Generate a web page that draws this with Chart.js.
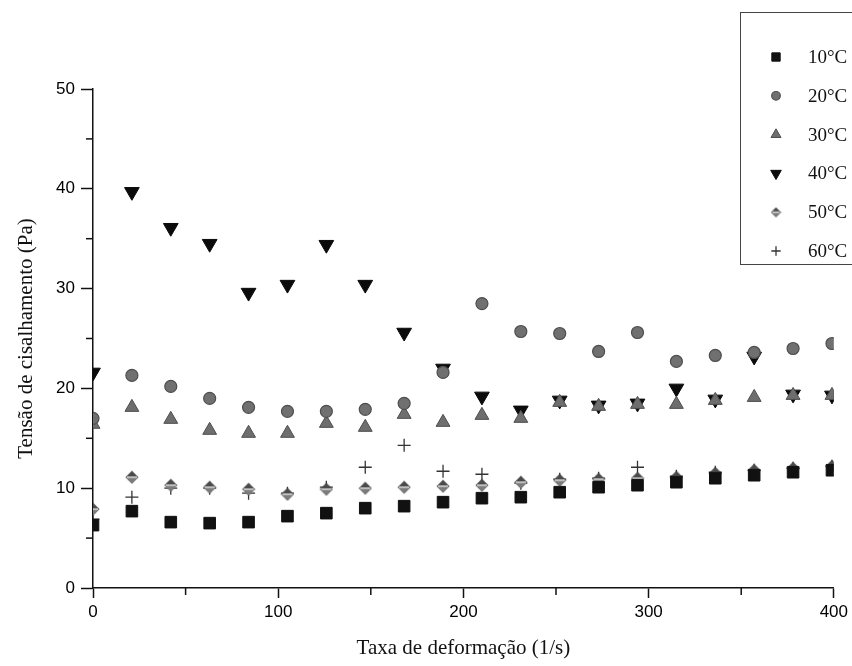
<!DOCTYPE html>
<html>
<head>
<meta charset="utf-8">
<title>Tensão de cisalhamento x Taxa de deformação</title>
<script src="https://cdn.jsdelivr.net/npm/chart.js@4.4.1/dist/chart.umd.min.js"></script>
<style>
  html, body { margin: 0; padding: 0; background: #fff; }
  #wrap { width: 852px; height: 666px; }
</style>
</head>
<body>
<div id="wrap"><canvas id="shearChart" width="852" height="666"></canvas></div>
<script>
// taxa de deformação (1/s)
const shearRates = [0, 21, 42, 63, 84, 105, 126, 147, 168, 189, 210, 231, 252, 273, 294, 315, 336, 357, 378, 399];

// tensão de cisalhamento (Pa) por temperatura
const t10 = [6.3, 7.7, 6.6, 6.5, 6.6, 7.2, 7.5, 8.0, 8.2, 8.6, 9.0, 9.1, 9.6, 10.1, 10.3, 10.6, 11.0, 11.3, 11.6, 11.8];
const t20 = [17.0, 21.3, 20.2, 19.0, 18.1, 17.7, 17.7, 17.9, 18.5, 21.6, 28.5, 25.7, 25.5, 23.7, 25.6, 22.7, 23.3, 23.6, 24.0, 24.5];
const t30 = [16.4, 18.1, 16.9, 15.8, 15.5, 15.5, 16.5, 16.1, 17.4, 16.6, 17.3, 17.0, 18.6, 18.2, 18.4, 18.4, 18.8, 19.1, 19.3, 19.3];
const t40 = [21.6, 39.7, 36.1, 34.5, 29.6, 30.4, 34.4, 30.4, 25.6, 22.0, 19.2, 17.8, 18.8, 18.3, 18.5, 20.0, 18.9, 23.2, 19.4, 19.3];
const t50 = [7.9, 11.1, 10.3, 10.1, 9.9, 9.4, 9.9, 10.0, 10.1, 10.2, 10.3, 10.6, 10.8, 10.9, 11.0, 11.1, 11.5, 11.8, 12.0, 12.2];
const t60 = [6.9, 9.1, 10.0, 10.0, 9.5, 9.5, 10.1, 12.1, 14.3, 11.7, 11.4, 10.5, 10.9, 11.0, 12.1, 11.2, 11.6, 11.8, 12.0, 12.2];

const seriesLabels = ['10°C', '20°C', '30°C', '40°C', '50°C', '60°C'];

// marcas secundárias dos eixos
const minorXTicks = [50, 150, 250, 350];
const minorYTicks = [5, 15, 25, 35, 45];

const serifFont = '"Liberation Serif", "Times New Roman", serif';
const sansFont = '"Liberation Sans", Arial, sans-serif';

// losango meio preenchido para 50°C
function makeHalfDiamond(size) {
    const c = document.createElement('canvas');
    c.width = size;
    c.height = size;
    const g = c.getContext('2d');
    const h = size / 2;
    g.fillStyle = '#4a4a4a';
    g.beginPath();
    g.moveTo(h, 0.5);
    g.lineTo(size - 0.5, h);
    g.lineTo(h, size - 0.5);
    g.lineTo(0.5, h);
    g.closePath();
    g.fill();
    g.fillStyle = '#7c7c7c';
    g.beginPath();
    g.moveTo(h, h);
    g.lineTo(size - 0.5, h);
    g.lineTo(h, size - 0.5);
    g.lineTo(0.5, h);
    g.closePath();
    g.fill();
    g.fillStyle = '#d4d4d4';
    g.fillRect(2, h - 0.8, size - 4, 1.6);
    return c;
}

const diamondPoint = makeHalfDiamond(14);
const diamondLegend = makeHalfDiamond(11);

function toPoints(values) {
    return shearRates.map((x, i) => ({ x: x, y: values[i] }));
}

const datasets = [
    { label: seriesLabels[0], data: toPoints(t10), pointStyle: 'rect', pointRadius: 8.2,
      backgroundColor: '#111111', borderColor: '#111111', borderWidth: 1 },
    { label: seriesLabels[1], data: toPoints(t20), pointStyle: 'circle', pointRadius: 6,
      backgroundColor: '#707070', borderColor: '#4e4e4e', borderWidth: 1.2 },
    { label: seriesLabels[2], data: toPoints(t30), pointStyle: 'triangle', pointRadius: 8,
      backgroundColor: '#6e6e6e', borderColor: '#4e4e4e', borderWidth: 1 },
    { label: seriesLabels[3], data: toPoints(t40), pointStyle: 'triangle', pointRotation: 180, pointRadius: 8.5,
      backgroundColor: '#0b0b0b', borderColor: '#0b0b0b', borderWidth: 1 },
    { label: seriesLabels[4], data: toPoints(t50), pointStyle: diamondPoint, pointRadius: 7,
      backgroundColor: '#5a5a5a', borderColor: '#5a5a5a', borderWidth: 1 },
    { label: seriesLabels[5], data: toPoints(t60), pointStyle: 'cross', pointRadius: 6.5,
      backgroundColor: '#333333', borderColor: '#333333', borderWidth: 1.3 }
];

const minorTicks = {
    id: 'minorTicks',
    afterDraw(chart) {
        const { ctx, scales: { x, y } } = chart;
        ctx.save();
        ctx.strokeStyle = '#111';
        ctx.lineWidth = 1.5;
        minorXTicks.forEach(v => {
            const px = x.getPixelForValue(v);
            ctx.beginPath();
            ctx.moveTo(px, y.bottom);
            ctx.lineTo(px, y.bottom + 7);
            ctx.stroke();
        });
        minorYTicks.forEach(v => {
            const py = y.getPixelForValue(v);
            ctx.beginPath();
            ctx.moveTo(x.left, py);
            ctx.lineTo(x.left - 7, py);
            ctx.stroke();
        });
        ctx.restore();
    }
};

// legenda em caixa no canto superior direito
const legendBox = {
    id: 'legendBox',
    afterDraw(chart) {
        const ctx = chart.ctx;
        ctx.save();
        ctx.strokeStyle = '#444';
        ctx.lineWidth = 1;
        ctx.strokeRect(740.5, 12.5, 140, 252);
        chart.data.datasets.forEach((ds, i) => {
            const y = 57 + i * 38.8;
            ctx.fillStyle = ds.backgroundColor;
            ctx.strokeStyle = ds.borderColor;
            ctx.lineWidth = ds.borderWidth;
            const style = ds.pointStyle === diamondPoint ? diamondLegend : ds.pointStyle;
            Chart.helpers.drawPoint(ctx, {
                pointStyle: style,
                rotation: ds.pointRotation || 0,
                radius: ds.pointRadius * 0.72,
                borderWidth: ds.borderWidth
            }, 776, y);
            ctx.fillStyle = '#111';
            ctx.font = '19px ' + serifFont;
            ctx.textBaseline = 'middle';
            ctx.textAlign = 'left';
            ctx.fillText(ds.label, 808, y + 1);
        });
        ctx.restore();
    }
};

new Chart(document.getElementById('shearChart').getContext('2d'), {
    type: 'scatter',
    data: { datasets },
    options: {
        responsive: false,
        animation: false,
        layout: { padding: { left: 0, top: 89, right: 16, bottom: 0 } },
        plugins: {
            legend: { display: false },
            tooltip: { enabled: false }
        },
        scales: {
            x: {
                type: 'linear',
                min: 0,
                max: 400,
                ticks: {
                    stepSize: 100,
                    color: '#000',
                    padding: 4,
                    maxRotation: 0,
                    font: { family: sansFont, size: 17 }
                },
                grid: { drawOnChartArea: false, drawTicks: true, tickLength: 10, tickColor: '#111', tickWidth: 1.5 },
                border: { display: true, color: '#111', width: 1.5 },
                title: {
                    display: true,
                    text: 'Taxa de deformação (1/s)',
                    color: '#111',
                    font: { family: serifFont, size: 21, lineHeight: 1.2 },
                    padding: { top: 0, bottom: 5 }
                },
                afterFit(scale) { scale.height = 78; }
            },
            y: {
                min: 0,
                max: 50,
                ticks: {
                    stepSize: 10,
                    color: '#000',
                    padding: 6,
                    font: { family: sansFont, size: 17 }
                },
                grid: { drawOnChartArea: false, drawTicks: true, tickLength: 12, tickColor: '#111', tickWidth: 1.5 },
                border: { display: true, color: '#111', width: 1.5 },
                title: {
                    display: true,
                    text: 'Tensão de cisalhamento (Pa)',
                    color: '#111',
                    font: { family: serifFont, size: 21, lineHeight: 1.2 },
                    padding: { top: 14, bottom: 0 }
                },
                afterFit(scale) { scale.width = 93; }
            }
        }
    },
    plugins: [minorTicks, legendBox]
});
</script>
</body>
</html>
